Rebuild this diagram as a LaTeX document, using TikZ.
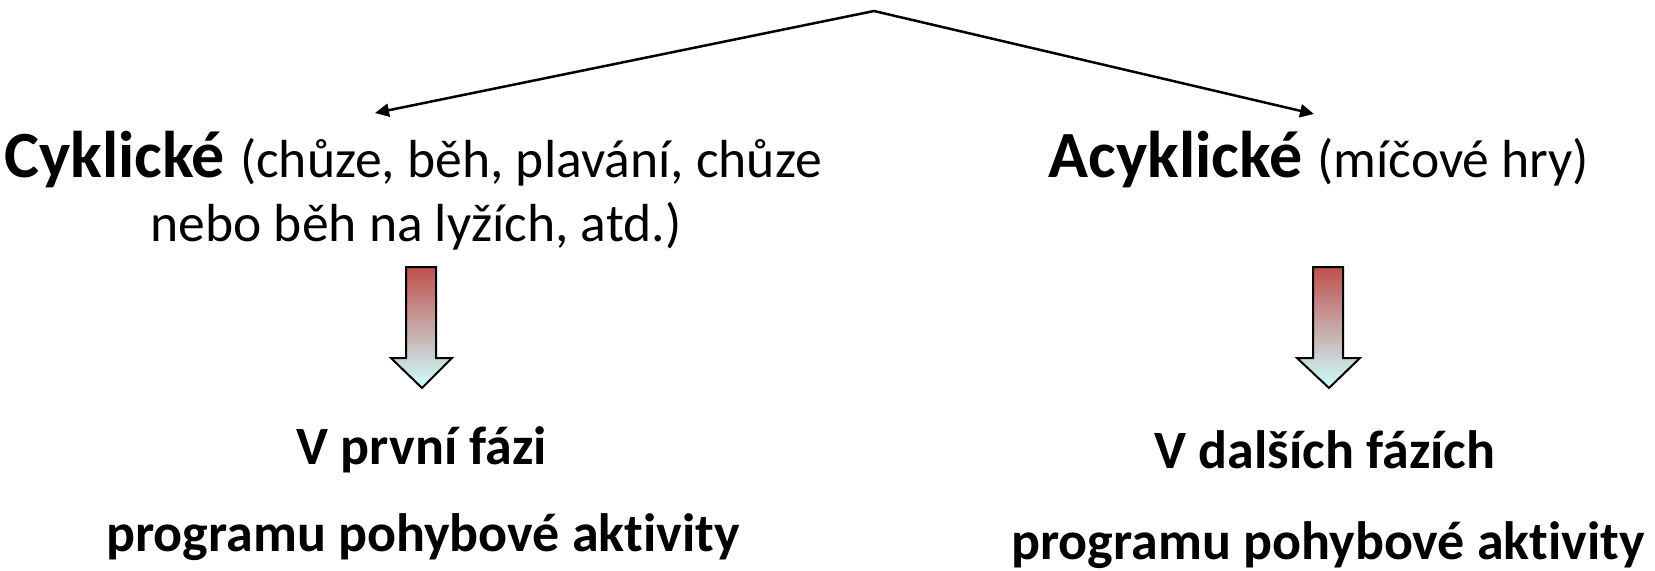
\documentclass[tikz,border=0pt]{standalone}
\usepackage{fontspec}
\setmainfont{Carlito}[Ligatures=NoCommon]
\usetikzlibrary{arrows.meta}
\definecolor{arrowtop}{RGB}{192,80,77}
\definecolor{arrowmid}{RGB}{196,182,182}
\definecolor{arrowbot}{RGB}{204,255,255}
\tikzset{
  px/.style={x=0.5pt,y=-0.5pt},
  branch/.style={line width=1.25pt,-{Triangle[length=7pt,width=6.5pt]}},
  downarrow/.style={line width=1pt,draw=black,top color=arrowtop,middle color=arrowmid,bottom color=arrowbot},
  bigtxt/.style={anchor=base,inner sep=0pt},
  hb/.style={font=\bfseries\fontsize{33}{40}\selectfont},
  lowtxt/.style={anchor=base,inner sep=0pt,font=\bfseries\fontsize{27}{32}\selectfont},
}
\newcommand{\hreg}{\mdseries\fontsize{26.8}{32}\selectfont}
\begin{document}
\begin{tikzpicture}[px]
\useasboundingbox (0,0) rectangle (1655,570);
\coordinate (apex) at (874,11);
\coordinate (ltip) at (375,113);
\coordinate (rtip) at (1314,114);
\draw[branch] (apex) -- (ltip);
\draw[branch] (apex) -- (rtip);
\node[bigtxt,hb] (cyk1) at (413,177) {Cyklické {\hreg(chůze, běh, plavání, chůze}};
\node[bigtxt,font=\fontsize{26.8}{32}\selectfont] (cyk2) at (416,241) {nebo běh na lyžích, atd.)};
\node[bigtxt,hb] (acyk) at (1319,177) {Acyklické {\hreg(míčové hry)}};
\path[downarrow] (406,267) -- (436,267) -- (436,358) -- (452,358) -- (422,388) -- (391,358) -- (406,358) -- cycle;
\path[downarrow] (1313,267) -- (1343,267) -- (1343,358) -- (1360,358) -- (1329,388) -- (1297,358) -- (1313,358) -- cycle;
\node[lowtxt] (l1) at (422,464) {V první fázi};
\node[lowtxt] (l2) at (423,551) {programu pohybové aktivity};
\node[lowtxt] (r1) at (1325,468) {V dalších fázích};
\node[lowtxt] (r2) at (1328,559) {programu pohybové aktivity};
\end{tikzpicture}
\end{document}
